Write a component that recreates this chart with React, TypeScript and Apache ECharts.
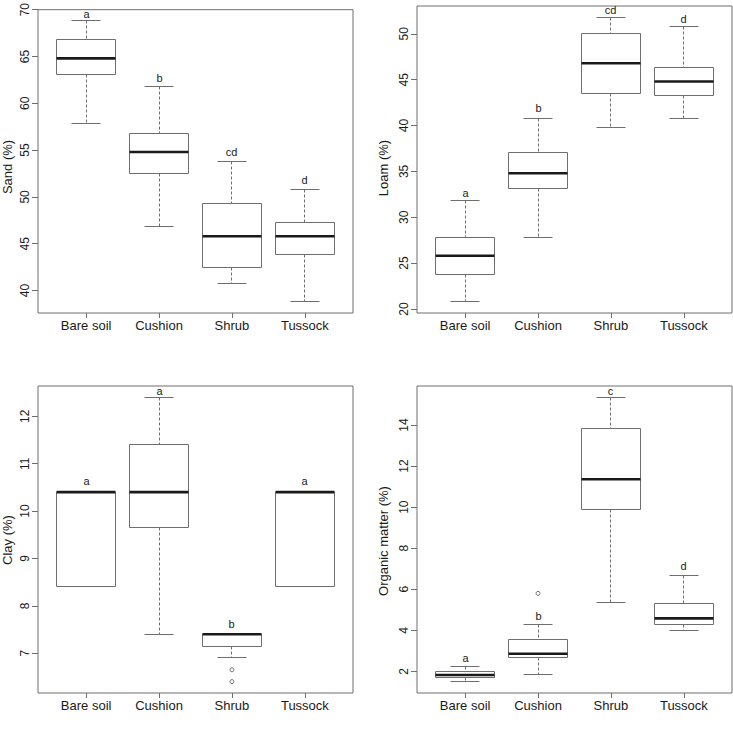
import React, { useEffect, useRef } from "react";
import * as echarts from "echarts";

const categories = ["Bare soil", "Cushion", "Shrub", "Tussock"];

// box statistics per category: [lower whisker, Q1, median, Q3, upper whisker]
const sandStats = [
  [57.8, 63.1, 64.8, 66.8, 68.8],
  [46.8, 52.5, 54.8, 56.8, 61.8],
  [40.8, 42.5, 45.8, 49.3, 53.8],
  [38.8, 43.8, 45.8, 47.3, 50.8],
];
const sandLetters = ["a", "b", "cd", "d"];
const sandLetterY = [69.5, 62.7, 54.8, 51.8];
const sandTicks = [40, 45, 50, 55, 60, 65, 70];
const sandOutliers: number[][] = [];

const loamStats = [
  [20.8, 23.8, 25.8, 27.8, 31.8],
  [27.8, 33.1, 34.8, 37.05, 40.8],
  [39.8, 43.5, 46.8, 50.0, 51.8],
  [40.8, 43.3, 44.8, 46.3, 50.8],
];
const loamLetters = ["a", "b", "cd", "d"];
const loamLetterY = [32.7, 41.9, 52.6, 51.6];
const loamTicks = [20, 25, 30, 35, 40, 45, 50];
const loamOutliers: number[][] = [];

const clayStats = [
  [8.4, 8.4, 10.4, 10.4, 10.4],
  [7.4, 9.65, 10.4, 11.4, 12.4],
  [6.9, 7.15, 7.4, 7.4, 7.4],
  [8.4, 8.4, 10.4, 10.4, 10.4],
];
const clayLetters = ["a", "a", "b", "a"];
const clayLetterY = [10.64, 12.54, 7.61, 10.64];
const clayTicks = [7, 8, 9, 10, 11, 12];
const clayOutliers = [
  [3, 6.65],
  [3, 6.4],
];

const organicStats = [
  [1.5, 1.72, 1.82, 1.97, 2.23],
  [1.87, 2.67, 2.86, 3.53, 4.27],
  [5.36, 9.87, 11.36, 13.82, 15.35],
  [4.01, 4.27, 4.58, 5.31, 6.69],
];
const organicLetters = ["a", "b", "c", "d"];
const organicLetterY = [2.63, 4.71, 15.65, 7.14];
const organicTicks = [2, 4, 6, 8, 10, 12, 14];
const organicOutliers = [[2, 5.8]];

const panels = [
  { name: "Sand (%)", stats: sandStats, letters: sandLetters, letterY: sandLetterY, ticks: sandTicks, outliers: sandOutliers },
  { name: "Loam (%)", stats: loamStats, letters: loamLetters, letterY: loamLetterY, ticks: loamTicks, outliers: loamOutliers },
  { name: "Clay (%)", stats: clayStats, letters: clayLetters, letterY: clayLetterY, ticks: clayTicks, outliers: clayOutliers },
  { name: "Organic matter (%)", stats: organicStats, letters: organicLetters, letterY: organicLetterY, ticks: organicTicks, outliers: organicOutliers },
];

const FONT = '"Liberation Sans", Arial, Helvetica, sans-serif';
const GREY = "#6e6e6e";
const INK = "#1a1a1a";

const gridBoxes = [
  { left: 38, top: 6, width: 315, height: 307 },
  { left: 417, top: 6, width: 315, height: 307 },
  { left: 38, top: 386, width: 315, height: 307 },
  { left: 417, top: 386, width: 315, height: 307 },
];
const namePos = [
  [7, 167],
  [383, 168],
  [7, 540],
  [383, 541],
];

const snap = (v: number) => Math.round(v - 0.5) + 0.5;

function rangeOf(p: (typeof panels)[number]) {
  const vals: number[] = [];
  p.stats.forEach((s) => vals.push(...s));
  p.outliers.forEach((o) => vals.push(o[1]));
  const lo = Math.min(...vals);
  const hi = Math.max(...vals);
  const pad = (hi - lo) * 0.04;
  return [lo - pad, hi + pad];
}

function makeRenderItem(letters: string[]) {
  return (params: any, api: any) => {
    const x = api.value(0);
    const lo = api.value(1);
    const q1 = api.value(2);
    const med = api.value(3);
    const q3 = api.value(4);
    const hi = api.value(5);
    const ly = api.value(6);
    const c = api.coord([x, med]);
    const half = api.coord([x + 0.4, med])[0] - c[0];
    const cx = snap(c[0]);
    const left = snap(c[0] - half);
    const right = snap(c[0] + half);
    const capL = snap(c[0] - half / 2);
    const capR = snap(c[0] + half / 2);
    const yLo = snap(api.coord([x, lo])[1]);
    const yQ1 = snap(api.coord([x, q1])[1]);
    const yMed = api.coord([x, med])[1];
    const yQ3 = snap(api.coord([x, q3])[1]);
    const yHi = snap(api.coord([x, hi])[1]);
    const yL = api.coord([x, ly])[1];
    const children: any[] = [];
    const dash = { stroke: GREY, lineWidth: 1, lineDash: [3, 2], fill: null };
    const solid = { stroke: GREY, lineWidth: 1, fill: null };
    if (hi > q3) {
      children.push({ type: "line", shape: { x1: cx, y1: yHi, x2: cx, y2: yQ3 }, style: dash });
      children.push({ type: "line", shape: { x1: capL, y1: yHi, x2: capR, y2: yHi }, style: solid });
    }
    if (lo < q1) {
      children.push({ type: "line", shape: { x1: cx, y1: yQ1, x2: cx, y2: yLo }, style: dash });
      children.push({ type: "line", shape: { x1: capL, y1: yLo, x2: capR, y2: yLo }, style: solid });
    }
    children.push({
      type: "rect",
      shape: { x: left, y: yQ3, width: right - left, height: yQ1 - yQ3 },
      style: { fill: "#ffffff", stroke: GREY, lineWidth: 1 },
    });
    children.push({
      type: "line",
      shape: { x1: left, y1: yMed, x2: right, y2: yMed },
      style: { stroke: INK, lineWidth: 2.6, fill: null },
    });
    children.push({
      type: "text",
      x: cx,
      y: yL,
      style: {
        text: letters[params.dataIndex],
        fontSize: 11,
        fontFamily: FONT,
        fill: INK,
        align: "center",
        verticalAlign: "middle",
        textAlign: "center",
        textVerticalAlign: "middle",
      },
    });
    return { type: "group", children };
  };
}

export default function App() {
  const ref = useRef<HTMLDivElement>(null);
  useEffect(() => {
    if (!ref.current) return;
    const chart = echarts.init(ref.current, undefined, { renderer: "svg" });
    const grid: any[] = [];
    const xAxis: any[] = [];
    const yAxis: any[] = [];
    const series: any[] = [];
    const graphic: any[] = [];
    panels.forEach((p, i) => {
      const g = gridBoxes[i];
      grid.push({ ...g, show: true, borderColor: GREY, borderWidth: 1, backgroundColor: "transparent" });
      xAxis.push({
        type: "value",
        gridIndex: i,
        min: 0.34,
        max: 4.66,
        splitLine: { show: false },
        axisLine: { show: false },
        axisTick: { show: true, customValues: [1, 2, 3, 4], length: 5, lineStyle: { color: GREY } },
        axisLabel: {
          customValues: [1, 2, 3, 4],
          formatter: (v: number) => categories[Math.round(v) - 1] ?? "",
          fontSize: 13,
          fontFamily: FONT,
          color: INK,
          margin: 6,
        },
      });
      const [mn, mx] = rangeOf(p);
      yAxis.push({
        type: "value",
        gridIndex: i,
        min: mn,
        max: mx,
        splitLine: { show: false },
        axisLine: { show: false },
        axisTick: { show: true, customValues: p.ticks, length: 6, lineStyle: { color: GREY } },
        axisLabel: {
          customValues: p.ticks,
          rotate: 90,
          fontSize: 12,
          fontFamily: FONT,
          color: INK,
          margin: 7,
        },
      });
      series.push({
        type: "custom",
        xAxisIndex: i,
        yAxisIndex: i,
        renderItem: makeRenderItem(p.letters),
        encode: { x: 0, y: [1, 2, 3, 4, 5] },
        data: p.stats.map((s, k) => [k + 1, ...s, p.letterY[k]]),
        clip: false,
        silent: true,
      });
      if (p.outliers.length) {
        series.push({
          type: "scatter",
          xAxisIndex: i,
          yAxisIndex: i,
          symbol: "circle",
          symbolSize: 4,
          itemStyle: { color: "#ffffff", borderColor: GREY, borderWidth: 1, opacity: 1 },
          data: p.outliers,
          silent: true,
          z: 5,
        });
      }
      graphic.push({
        type: "text",
        x: namePos[i][0],
        y: namePos[i][1],
        rotation: Math.PI / 2,
        style: {
          text: p.name,
          fontSize: 13,
          fontFamily: FONT,
          fill: INK,
          align: "center",
          verticalAlign: "middle",
          textAlign: "center",
          textVerticalAlign: "middle",
        },
      });
    });
    chart.setOption({
      animation: false,
      backgroundColor: "#ffffff",
      textStyle: { fontFamily: FONT },
      grid,
      xAxis,
      yAxis,
      series,
      graphic,
    });
    return () => chart.dispose();
  }, []);
  return (
    <div
      ref={ref}
      style={{ position: "fixed", left: 0, top: 0, width: 733, height: 730, background: "#fff" }}
    />
  );
}
